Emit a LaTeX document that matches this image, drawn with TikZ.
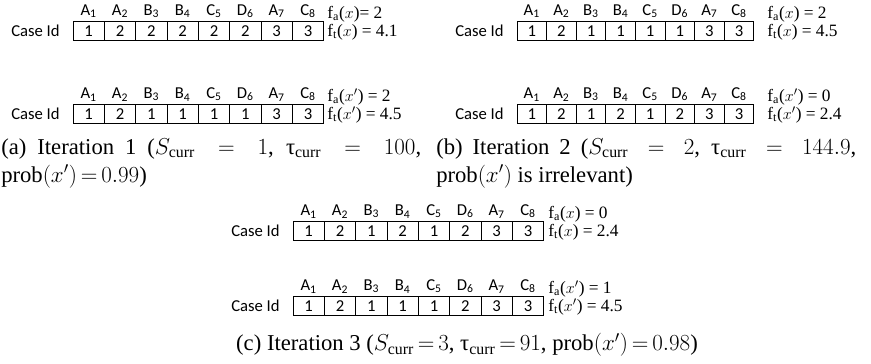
\documentclass[tikz,border=0pt]{standalone}
\usepackage{amsmath}
\usepackage{fontspec}
\setmainfont{Liberation Serif}
\newfontfamily\logfont{Carlito}
\usepackage{tikz}
\usetikzlibrary{positioning,calc}
\thickmuskip=3mu plus 8mu\relax
\tikzset{
  logcell/.style={draw,line width=0.6pt,minimum width=#1,minimum height=14.5pt,inner sep=0pt,font=\logfont\fontsize{12.5}{13}\selectfont},
  logact/.style={inner sep=0pt,font=\logfont\fontsize{12.5}{13}\selectfont},
  logcase/.style={inner sep=0pt,font=\logfont\fontsize{12.5}{13}\selectfont},
  logfit/.style={inner sep=0pt,anchor=west,font=\fontsize{13}{14}\selectfont},
  logcap/.style={inner sep=0pt,anchor=north west,align=justify,text width=315pt,font=\fontsize{17}{21}\selectfont},
}
% one row of the log: #1 name, #2 left end, #3 cell width, #4 case ids
\newcommand{\logrow}[4]{%
  \foreach \cid [count=\i] in {#4}
    \node[logcell=#3] (#1-\i) at ($(#2)+({(\i-0.5)*#3},0)$) {\cid};
  \foreach \act/\pos [count=\i] in {A/1,A/2,B/3,B/4,C/5,D/6,A/7,C/8}
    \node[logact,above=2pt of #1-\i] (#1-act\i) {\act\textsubscript{\pos}};
  \node[logcase,left=9.5pt of #1-1] (#1-id) {Case Id};
}

\begin{document}
\begin{tikzpicture}[x=0.75pt,y=-0.75pt]
\useasboundingbox (0,0) rectangle (871,364);
% (a) iteration 1
\coordinate (a1) at (73,31);
\coordinate (a2) at (73,114);
\logrow{a1}{a1}{23.5pt}{1,2,2,2,2,2,3,3}
\logrow{a2}{a2}{23.5pt}{1,2,1,1,1,1,3,3}
\node[logfit] (a1-fa) at (327,14) {f\textsubscript{a}($x$)= 2};
\node[logfit] (a1-ft) at (327,32) {f\textsubscript{t}($x$) = 4.1};
\node[logfit] (a2-fa) at (327,97) {f\textsubscript{a}($x'$) = 2};
\node[logfit] (a2-ft) at (327,115) {f\textsubscript{t}($x'$) = 4.5};
\node[logcap] (capa) at (1,138) {(a) Iteration 1 ($S_{\mathrm{curr}}=1$, τ$_{\mathrm{curr}}=100$,\linebreak $\mathrm{prob}(x')=0.99$)};
% (b) iteration 2
\coordinate (b1) at (517,31);
\coordinate (b2) at (517,114);
\logrow{b1}{b1}{22.2pt}{1,2,1,1,1,1,3,3}
\logrow{b2}{b2}{22.2pt}{1,2,1,2,1,2,3,3}
\node[logfit] (b1-fa) at (767,14) {f\textsubscript{a}($x$) = 2};
\node[logfit] (b1-ft) at (767,32) {f\textsubscript{t}($x$) = 4.5};
\node[logfit] (b2-fa) at (767,97) {f\textsubscript{a}($x'$) = 0};
\node[logfit] (b2-ft) at (767,115) {f\textsubscript{t}($x'$) = 2.4};
\node[logcap] (capb) at (436,138) {(b) Iteration 2 ($S_{\mathrm{curr}}=2$, τ$_{\mathrm{curr}}=144.9$,\linebreak $\mathrm{prob}(x')$ is irrelevant)};
% (c) iteration 3
\coordinate (c1) at (293,231);
\coordinate (c2) at (293,306);
\logrow{c1}{c1}{23.5pt}{1,2,1,2,1,2,3,3}
\logrow{c2}{c2}{23.5pt}{1,2,1,1,1,2,3,3}
\node[logfit] (c1-fa) at (548,214) {f\textsubscript{a}($x$) = 0};
\node[logfit] (c1-ft) at (548,232) {f\textsubscript{t}($x$) = 2.4};
\node[logfit] (c2-fa) at (548,289) {f\textsubscript{a}($x'$) = 1};
\node[logfit] (c2-ft) at (548,307) {f\textsubscript{t}($x'$) = 4.5};
\node[inner sep=0pt,font=\fontsize{17}{21}\selectfont] (capc) at (467,345) {(c) Iteration 3 ($S_{\mathrm{curr}}=3$, τ$_{\mathrm{curr}}=91$, $\mathrm{prob}(x')=0.98$)};
\end{tikzpicture}
\end{document}
